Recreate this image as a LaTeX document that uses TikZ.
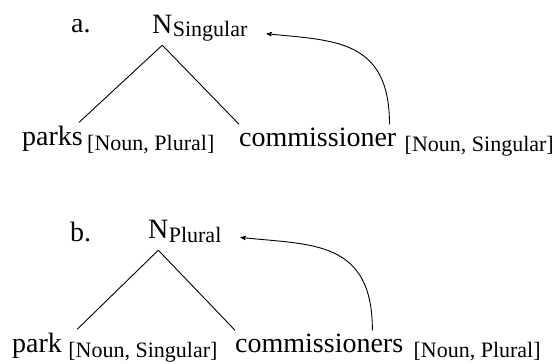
\documentclass[tikz,border=0pt]{standalone}
\usepackage{fontspec}
\setmainfont{Liberation Serif}
\usetikzlibrary{positioning}
\usetikzlibrary{arrows}
\newcommand{\wordsize}{\fontsize{28}{32}\selectfont}
\newcommand{\featsize}{\fontsize{22}{26}\selectfont}
\tikzset{>=stealth'}
\tikzset{word/.style={inner xsep=0pt,inner ysep=4pt,anchor=base west,font=\wordsize}}
\tikzset{head/.style={inner xsep=0pt,inner ysep=11pt,anchor=base west,font=\wordsize}}
\tikzset{feat/.style={inner sep=0pt,anchor=base west,font=\featsize}}
\tikzset{br/.style={line width=0.9pt}}
\tikzset{mv/.style={->,line width=0.9pt,shorten >=19pt,looseness=1.3}}
\begin{document}
\begin{tikzpicture}[x=1pt,y=1pt]
        \useasboundingbox (0,0) rectangle (557,364);

        \node[word] (labA) at (71,331) {a.};
        \node[head] (headA) at (152,330) {N};
        \node[right=0pt of headA.base east,feat,yshift=-3pt] (subA) {Singular};

        \node[word] (parksA) at (22,218) {parks};
        \node[right=4pt of parksA.base east,feat,yshift=-5pt] (featPA) {[Noun, Plural]};
        \node[word] (commA) at (239,217) {commissioner};
        \node[right=8pt of commA.base east,feat,yshift=-5pt] (featCA) {[Noun, Singular]};

        \draw[br] (headA.south) -- ([xshift=-4pt]parksA.north east);
        \draw[br] (headA.south) -- (commA.north west);
        \draw[mv] ([xshift=-7pt]commA.north east) to[out=90,in=-6] (subA.east);

        \node[word] (labB) at (70,122) {b.};
        \node[head] (headB) at (148,125) {N};
        \node[right=0pt of headB.base east,feat,yshift=-4pt] (subB) {Plural};

        \node[word] (parkB) at (12,11) {park};
        \node[right=6pt of parkB.base east,feat,yshift=-5pt] (featPB) {[Noun, Singular]};
        \node[word] (commB) at (235,11) {commissioners};
        \node[right=10pt of commB.base east,feat,yshift=-5pt] (featCB) {[Noun, Plural]};

        \draw[br] (headB.south) -- ([xshift=15pt]parkB.north east);
        \draw[br] (headB.south) -- (commB.north west);
        \draw[mv] ([xshift=-31pt]commB.north east) to[out=90,in=-6] (subB.east);
\end{tikzpicture}
\end{document}
